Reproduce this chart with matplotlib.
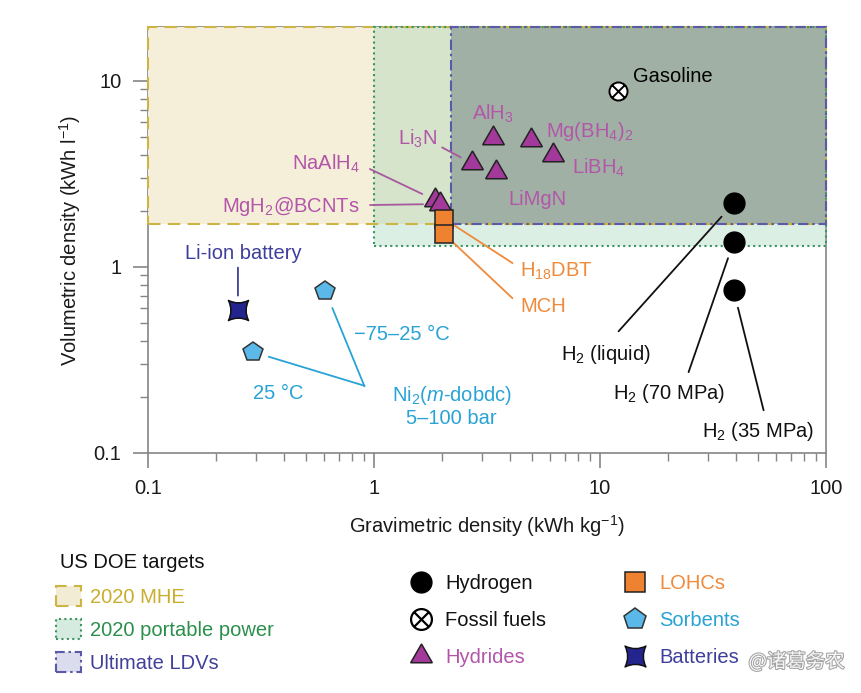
import numpy as np
import matplotlib
matplotlib.use("Agg")
import matplotlib.pyplot as plt
from matplotlib.path import Path
from matplotlib.patches import Rectangle
from matplotlib.lines import Line2D
from matplotlib.ticker import FuncFormatter, NullFormatter, LogLocator
import matplotlib.patheffects as pe

plt.rcParams['font.family'] = ['Liberation Sans', 'DejaVu Sans']
plt.rcParams['mathtext.fontset'] = 'custom'
plt.rcParams['mathtext.rm'] = 'Liberation Sans'
plt.rcParams['mathtext.it'] = 'Liberation Sans:italic'
plt.rcParams['mathtext.bf'] = 'Liberation Sans:bold'

# ---------------- data ----------------
hydrogen_labels = ['H$_2$ (liquid)', 'H$_2$ (70 MPa)', 'H$_2$ (35 MPa)']
hydrogen_grav = [39.0, 39.0, 39.0]
hydrogen_vol = [2.2, 1.36, 0.75]

fossil_labels = ['Gasoline']
fossil_grav = [12.0]
fossil_vol = [8.8]

hydride_labels = ['AlH$_3$', 'Mg(BH$_4$)$_2$', 'LiBH$_4$', 'Li$_3$N', 'LiMgN',
                  'NaAlH$_4$', 'MgH$_2$@BCNTs']
hydride_grav = [3.37, 4.95, 6.2, 2.72, 3.47, 1.86, 1.96]
hydride_vol = [4.94, 4.8, 4.0, 3.6, 3.24, 2.29, 2.18]

lohc_labels = ['H$_{18}$DBT', 'MCH']
lohc_grav = [2.05, 2.05]
lohc_vol = [1.81, 1.5]

sorbent_labels = ['\u221275\u201325 \u00b0C', '25 \u00b0C']
sorbent_grav = [0.61, 0.29]
sorbent_vol = [0.74, 0.35]

battery_labels = ['Li-ion battery']
battery_grav = [0.25]
battery_vol = [0.59]

target_labels = ['2020 MHE', '2020 portable power', 'Ultimate LDVs']
target_grav_min = [0.1, 1.0, 2.2]
target_vol_min = [1.7, 1.3, 1.7]

category_labels = ['Hydrogen', 'Fossil fuels', 'Hydrides', 'LOHCs', 'Sorbents', 'Batteries']

x_ticks = [0.1, 1, 10, 100]
y_ticks = [0.1, 1, 10]
x_lim = (0.1, 100)
y_lim = (0.1, 19.5)

# ---------------- style ----------------
FS = 14.5
PX = 0.72  # points per pixel at dpi 100
hyd_face, hyd_text, hyd_line = '#a3399a', '#b356a9', '#a8589e'
lohc_face, lohc_text = '#ee8230', '#f08a3a'
sorb_face, sorb_text = '#5ab9e8', '#29a3d6'
bat_face, bat_text = '#24248f', '#3e3e9c'
axis_col = '#858585'

# custom markers
M, L, C3, CL = Path.MOVETO, Path.LINETO, Path.CURVE3, Path.CLOSEPOLY
d = 0.68
circle_x = Path.make_compound_path(
    Path.unit_circle(),
    Path([(-d, -d), (d, d)], [M, L]),
    Path([(-d, d), (d, -d)], [M, L]))
k = 0.5
battery_marker = Path(
    [(1, 1), (0, k), (-1, 1), (-k, 0), (-1, -1), (0, -k), (1, -1), (k, 0), (1, 1), (1, 1)],
    [M, C3, C3, C3, C3, C3, C3, C3, C3, CL])
tri = (3, 0, 0)

fig = plt.figure(figsize=(8.62, 6.93), dpi=100)
ax = fig.add_axes([148 / 862, 1 - 453 / 693, (826 - 148) / 862, (453 - 27) / 693])
ax.set_xscale('log')
ax.set_yscale('log')
ax.set_xlim(*x_lim)
ax.set_ylim(*y_lim)

# ---------------- target regions ----------------
region_face = ['#f5efda', (0.55, 0.80, 0.65, 0.30), (0.43, 0.49, 0.51, 0.50)]
region_edge = ['#cdb545', '#3a9560', '#5a5aa8']
region_ls = [(0, (6, 3.5)), (0, (1, 1.6)), (0, (5, 1.8, 1.2, 1.8))]
for i in range(len(target_labels)):
    r = Rectangle((target_grav_min[i], target_vol_min[i]),
                  x_lim[1] - target_grav_min[i], y_lim[1] - target_vol_min[i],
                  facecolor=region_face[i], edgecolor='none', zorder=1 + i * 0.1)
    ax.add_patch(r)
for i in range(len(target_labels)):
    r = Rectangle((target_grav_min[i], target_vol_min[i]),
                  x_lim[1] - target_grav_min[i], y_lim[1] - target_vol_min[i],
                  facecolor='none', edgecolor=region_edge[i], linestyle=region_ls[i],
                  linewidth=1.5, zorder=2 + i * 0.1, clip_on=False)
    ax.add_patch(r)

# ---------------- markers ----------------
ax.plot(hydrogen_grav, hydrogen_vol, 'o', ms=15, mfc='black', mec='black', zorder=5)
ax.plot(fossil_grav, fossil_vol, marker=circle_x, ls='none', ms=13, mfc='white',
        mec='black', mew=1.4, zorder=5)
ax.plot(hydride_grav, hydride_vol, marker=tri, ls='none', ms=18, mfc=hyd_face,
        mec='#222222', mew=1.1, zorder=5)
ax.plot(lohc_grav, lohc_vol, 's', ms=13, mfc=lohc_face, mec='#222222', mew=1.1, zorder=5)
ax.plot(sorbent_grav, sorbent_vol, 'p', ms=15, mfc=sorb_face, mec='#333333', mew=1.1, zorder=5)
ax.plot(battery_grav, battery_vol, marker=battery_marker, ls='none', ms=14.5,
        mfc=bat_face, mec='#111111', mew=1.1, zorder=5)

# ---------------- labels (offsets in pixels) ----------------
def label(x, y, text, dx, dy, color, ha='left', leader=None, lcolor=None, **kw):
    ax.annotate(text, (x, y), xytext=(dx * PX, dy * PX), textcoords='offset points',
                ha=ha, va='center', color=color, fontsize=FS, zorder=6, **kw)
    if leader is not None:
        lx, ly, gap = leader
        ax.annotate('', (x, y), xytext=(lx * PX, ly * PX), textcoords='offset points',
                    arrowprops=dict(arrowstyle='-', color=lcolor or color, lw=1.3,
                                    shrinkA=0, shrinkB=gap * PX), zorder=4)

# fossil
label(fossil_grav[0], fossil_vol[0], fossil_labels[0], 15, 15, 'black')

# hydrides
hyd_layout = [
    (0, 24, 'center', None),
    (15, 9, 'left', None),
    (19, -13, 'left', None),
    (-35, 25, 'right', (-30, 16, 13)),
    (12, -27, 'left', None),
    (-75, 36, 'right', (-65, 31, 14)),
    (-80, -2, 'right', (-70, -1, 17)),
]
for i, (dx, dy, ha, ld) in enumerate(hyd_layout):
    label(hydride_grav[i], hydride_vol[i], hydride_labels[i], dx, dy, hyd_text, ha,
          ld, hyd_line)

# LOHCs
lohc_layout = [(76, -52, (68, -44, 12)), (76, -72, (68, -64, 13))]
for i, (dx, dy, ld) in enumerate(lohc_layout):
    label(lohc_grav[i], lohc_vol[i], lohc_labels[i], dx, dy, lohc_text, 'left', ld)

# hydrogen
h_layout = [(-128, -151, (-115, -128, 18)), (-65, -151, (-45, -130, 17)),
            (24, -141, (30, -120, 18))]
for i, (dx, dy, ld) in enumerate(h_layout):
    label(hydrogen_grav[i], hydrogen_vol[i], hydrogen_labels[i], dx, dy, '#111111',
          'center', ld)

# battery
label(battery_grav[0], battery_vol[0], battery_labels[0], 5, 56, bat_text, 'center',
      (0, 42, 14), bat_text)

# sorbents
label(sorbent_grav[0], sorbent_vol[0], sorbent_labels[0], 29, -43, sorb_text, 'left',
      (39, -95, 18))
label(sorbent_grav[1], sorbent_vol[1], sorbent_labels[1], 26, -42, sorb_text, 'center',
      (112, -34, 17))
label(sorbent_grav[0], sorbent_vol[0], 'Ni$_2$($m$-dobdc)\n5\u2013100 bar', 126, -115,
      sorb_text, 'center', multialignment='center', linespacing=1.15)

# ---------------- axes styling ----------------
for s in ax.spines.values():
    s.set_color(axis_col)
    s.set_linewidth(1.2)
    s.set_zorder(0.5)
ax.set_xticks(x_ticks)
ax.set_yticks(y_ticks)
ax.xaxis.set_minor_locator(LogLocator(base=10, subs=np.arange(2, 10)))
ax.yaxis.set_minor_locator(LogLocator(base=10, subs=np.arange(2, 10)))
fmt = FuncFormatter(lambda v, p: f'{v:g}')
ax.xaxis.set_major_formatter(fmt)
ax.yaxis.set_major_formatter(fmt)
ax.xaxis.set_minor_formatter(NullFormatter())
ax.yaxis.set_minor_formatter(NullFormatter())
ax.tick_params(which='major', direction='out', length=11, width=1.2, color=axis_col,
               labelsize=FS, pad=8, labelcolor='#1a1a1a')
ax.tick_params(which='minor', direction='out', length=5.5, width=1.0, color=axis_col)
ax.tick_params(which='both', top=False, right=False)

ax.set_xlabel('Gravimetric density (kWh kg$^{-1}$)', fontsize=FS, color='#1a1a1a')
ax.set_ylabel('Volumetric density (kWh l$^{-1}$)', fontsize=FS, color='#1a1a1a')
ax.xaxis.set_label_coords(0.5, -0.14)
ax.yaxis.set_label_coords(-0.096, 0.5)

# ---------------- legends ----------------
fig.text(60 / 862, 1 - 563 / 693, 'US DOE targets', fontsize=FS, color='#111111',
         ha='left', va='center')
leg_face = ['#f3ecd5', '#d5ebdf', '#dcdcef']
leg_text = ['#c9ae2e', '#2b8f4c', '#40409a']
t_handles = [Rectangle((0, 0), 1, 1, facecolor=leg_face[i], edgecolor=region_edge[i],
                       linestyle=region_ls[i], linewidth=1.5)
             for i in range(len(target_labels))]
leg1 = fig.legend(t_handles, target_labels, loc='upper left',
                  bbox_to_anchor=(56 / 862, 1 - 586 / 693), frameon=False, fontsize=FS,
                  handlelength=1.25, handleheight=1.15, handletextpad=0.45,
                  labelspacing=0.6, borderpad=0, borderaxespad=0)
for t, c in zip(leg1.get_texts(), leg_text):
    t.set_color(c)

c_handles = [
    Line2D([], [], ls='none', marker='o', ms=15, mfc='black', mec='black'),
    Line2D([], [], ls='none', marker=circle_x, ms=15, mfc='white', mec='black', mew=1.6),
    Line2D([], [], ls='none', marker=tri, ms=18, mfc=hyd_face, mec='#222222', mew=1.1),
    Line2D([], [], ls='none', marker='s', ms=14, mfc=lohc_face, mec='#222222', mew=1.1),
    Line2D([], [], ls='none', marker='p', ms=16, mfc=sorb_face, mec='#333333', mew=1.1),
    Line2D([], [], ls='none', marker=battery_marker, ms=15, mfc=bat_face, mec='#111111',
           mew=1.1),
]
cat_colors = ['#111111', '#111111', hyd_text, lohc_text, sorb_text, bat_text]
leg2 = fig.legend(c_handles, category_labels, loc='upper left', ncol=2,
                  bbox_to_anchor=(409 / 862, 1 - 574 / 693), frameon=False, fontsize=FS,
                  handlelength=1.2, handletextpad=0.6, columnspacing=3.8,
                  labelspacing=0.9, borderpad=0, borderaxespad=0)
for t, c in zip(leg2.get_texts(), cat_colors):
    t.set_color(c)

# watermark
fig.text(845 / 862, 1 - 662 / 693, '@诸葛务农', fontsize=14, ha='right', va='center',
         color='white', family=['Noto Sans CJK SC', 'DejaVu Sans'], alpha=0.9,
         path_effects=[pe.withStroke(linewidth=1.5, foreground='#9a9a9a')])

fig.savefig('out.png', dpi=100)
